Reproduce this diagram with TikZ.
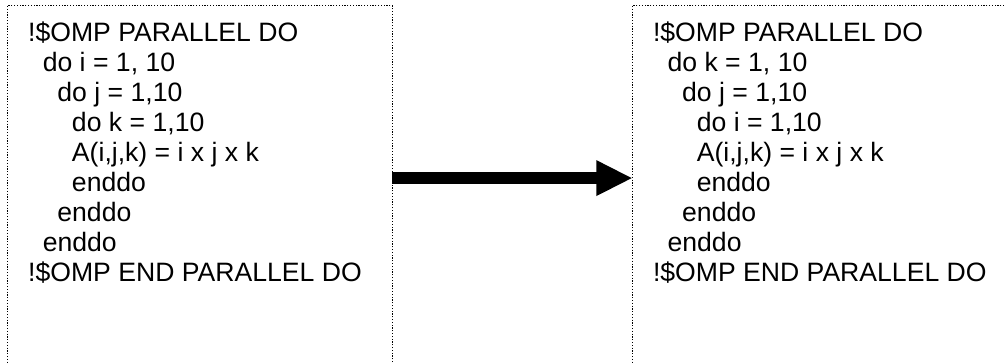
\documentclass[tikz,border=0pt]{standalone}
\usepackage{fontspec}
\setmainfont{Liberation Sans}
\usetikzlibrary{calc}

% one line of code, indented by #1 levels
\newcommand\codeline[2]{\hbox{\kern#1\dimexpr14.6pt\relax #2}}

\begin{document}
\begin{tikzpicture}[x=1pt,y=-1pt,
  codebox/.style={draw=black, line width=1pt, dash pattern=on 1.2pt off 1.6pt,
    minimum width=384.7pt, minimum height=420pt, inner sep=0pt, outer sep=0pt,
    anchor=north west},
  codetext/.style={inner sep=0pt, outer sep=0pt, anchor=base west,
    font=\fontsize{26.6pt}{29.9pt}\selectfont},
  bigarrow/.style={fill=black}]
  \useasboundingbox (0,0) rectangle (1004,363);
  \clip (0,0) rectangle (1004,363);

  % the two program frames
  \node[codebox] (lbox) at (7.3,5.5) {};
  \node[codebox] (rbox) at (632.3,5.5) {};

  % loop nest before the interchange
  \node[codetext] (lcode) at (28.2,42) {\vtop{%
    \codeline{0}{!\$OMP PARALLEL DO}
    \codeline{1}{do i = 1, 10}
    \codeline{2}{do j = 1,10}
    \codeline{3}{do k = 1,10}
    \codeline{3}{A(i,j,k) = i x j x k}
    \codeline{3}{enddo}
    \codeline{2}{enddo}
    \codeline{1}{enddo}
    \codeline{0}{!\$OMP END PARALLEL DO}}};

  % loop nest after the interchange
  \node[codetext] (rcode) at (653,42) {\vtop{%
    \codeline{0}{!\$OMP PARALLEL DO}
    \codeline{1}{do k = 1, 10}
    \codeline{2}{do j = 1,10}
    \codeline{3}{do i = 1,10}
    \codeline{3}{A(i,j,k) = i x j x k}
    \codeline{3}{enddo}
    \codeline{2}{enddo}
    \codeline{1}{enddo}
    \codeline{0}{!\$OMP END PARALLEL DO}}};

  % block arrow from the left frame to the right frame
  \coordinate (ay) at (0,178.1);
  \fill[bigarrow]
    ($(lbox.east |- ay)+(0,-5.85)$) --
    ($(rbox.west |- ay)+(-36,-5.85)$) --
    ($(rbox.west |- ay)+(-36,-18)$) --
    ($(rbox.west |- ay)+(-0.6,0)$) --
    ($(rbox.west |- ay)+(-36,18)$) --
    ($(rbox.west |- ay)+(-36,5.85)$) --
    ($(lbox.east |- ay)+(0,5.85)$) -- cycle;
\end{tikzpicture}
\end{document}
